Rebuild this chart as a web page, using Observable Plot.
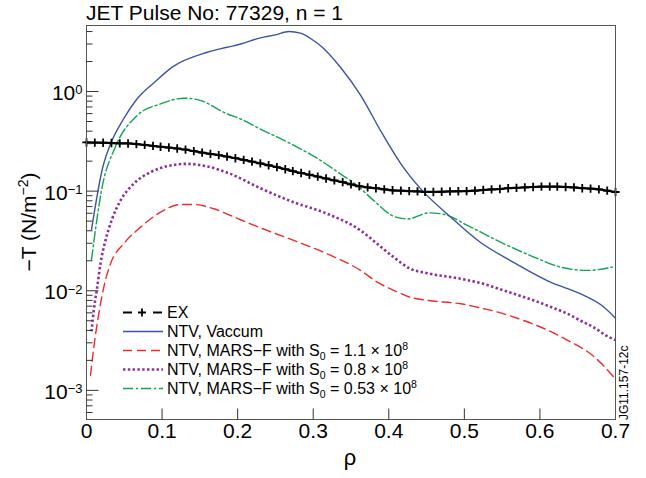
<!DOCTYPE html>
<html>
<head>
<meta charset="utf-8">
<script src="https://cdn.jsdelivr.net/npm/d3@7"></script>
<script src="https://cdn.jsdelivr.net/npm/@observablehq/plot@0.6"></script>
<style>
  html, body { margin: 0; padding: 0; background: #fff; }
  #chart { width: 646px; height: 478px; }
  svg { display: block; }
</style>
</head>
<body>
<div id="chart"></div>
<script>
// Torque profiles −T(ρ), JET pulse 77329, n = 1

// Experimental profile (EX), one marker per sample
const exRho = [0.000,0.011,0.022,0.033,0.044,0.055,0.066,0.077,0.088,0.098,
  0.109,0.120,0.131,0.142,0.153,0.164,0.175,0.186,0.197,0.208,
  0.219,0.230,0.241,0.252,0.263,0.273,0.284,0.295,0.306,0.317,
  0.328,0.339,0.350,0.361,0.372,0.383,0.394,0.405,0.416,0.427,
  0.438,0.448,0.459,0.470,0.481,0.492,0.503,0.514,0.525,0.536,
  0.547,0.558,0.569,0.580,0.591,0.602,0.613,0.623,0.634,0.645,
  0.656,0.667,0.678,0.689,0.700];
const exT = [0.308,0.307,0.306,0.304,0.302,0.301,0.297,0.291,0.285,0.279,
  0.274,0.268,0.261,0.252,0.244,0.237,0.230,0.222,0.214,0.206,
  0.198,0.190,0.182,0.174,0.166,0.159,0.152,0.146,0.140,0.134,
  0.128,0.123,0.117,0.112,0.109,0.107,0.104,0.102,0.101,0.100,
  0.0993,0.0984,0.0981,0.0986,0.0993,0.0997,0.100,0.101,0.103,0.104,
  0.105,0.107,0.108,0.109,0.110,0.111,0.111,0.111,0.110,0.109,
  0.107,0.106,0.104,0.101,0.098];

// NTV, vacuum
const vacRho = [0.0066,0.022,0.032,0.049,0.067,0.090,0.113,0.160,0.186,0.204,
  0.230,0.250,0.268,0.283,0.298,0.312,0.336,0.363,0.389,0.416,
  0.442,0.482,0.521,0.561,0.614,0.654,0.682,0.700];
const vacT = [0.041,0.18,0.30,0.53,0.845,1.24,1.75,2.48,2.78,3.0,
  3.46,3.7,4.0,3.85,3.35,2.78,1.75,0.91,0.406,0.188,
  0.106,0.0548,0.0307,0.0201,0.0122,0.0093,0.0071,0.0053];

// NTV, MARS-F with S0 = 1.1e8
const s11Rho = [0.0053,0.0097,0.0163,0.0229,0.0318,0.0494,0.0715,0.098,0.1244,0.142,
  0.1685,0.2038,0.239,0.2743,0.3185,0.3626,0.3847,0.4066,0.4287,0.4508,
  0.495,0.526,0.548,0.570,0.592,0.614,0.636,0.671,0.700];
const s11T = [0.00142,0.00272,0.00589,0.0109,0.0187,0.0297,0.0435,0.0615,0.0735,0.0735,
  0.0665,0.0516,0.0403,0.032,0.0235,0.016,0.0122,0.0101,0.0086,0.008,
  0.0074,0.0066,0.0060,0.0053,0.0046,0.0039,0.0032,0.0022,0.0013];

// NTV, MARS-F with S0 = 0.8e8
const s08Rho = [0.0066,0.0097,0.0142,0.0185,0.0251,0.034,0.045,0.0626,0.0847,0.1068,
  0.1333,0.160,0.1905,0.230,0.274,0.3185,0.3626,0.3847,0.4066,0.4287,
  0.4508,0.495,0.526,0.548,0.570,0.592,0.614,0.636,0.654,0.671,
  0.689,0.700];
const s08T = [0.0039,0.0064,0.0109,0.0187,0.032,0.0528,0.0805,0.119,0.155,0.178,
  0.188,0.177,0.149,0.107,0.0775,0.0593,0.0403,0.0296,0.0217,0.0166,
  0.015,0.0132,0.0117,0.0103,0.0091,0.0080,0.0069,0.0059,0.0050,0.0043,
  0.0035,0.0032];

// NTV, MARS-F with S0 = 0.53e8
const s053Rho = [0.0066,0.0207,0.038,0.067,0.098,0.129,0.147,0.186,0.204,0.230,
  0.270,0.310,0.336,0.358,0.380,0.407,0.425,0.453,0.473,0.504,
  0.548,0.592,0.627,0.663,0.696];
const s053T = [0.0205,0.11,0.276,0.574,0.752,0.857,0.83,0.597,0.53,0.42,
  0.30,0.203,0.149,0.114,0.0805,0.0557,0.0526,0.0605,0.0585,0.0453,
  0.0307,0.0218,0.0173,0.016,0.0173];

// Axis ticks and labels
const xTickValues = [0, 0.1, 0.2, 0.3, 0.4, 0.5, 0.6, 0.7];
const xTickLabels = ["0", "0.1", "0.2", "0.3", "0.4", "0.5", "0.6", "0.7"];
const xTickMarks = [0.1, 0.2, 0.3, 0.4, 0.5, 0.6];
const yMajor = [1e-3, 1e-2, 1e-1, 1];
const yExponents = ["−3", "−2", "−1", "0"];
const yDomain = [5.1e-4, 4.6];
const yMinor = [1e-4, 1e-3, 1e-2, 1e-1, 1]
  .flatMap(d => [2, 3, 4, 5, 6, 7, 8, 9].map(k => k * d))
  .filter(v => v >= yDomain[0] && v <= yDomain[1]);

const titleText = "JET Pulse No: 77329, n = 1";
const xLabel = "ρ";
const noteText = "JG11.157-12c";

const colors = {ex: "#000000", vac: "#3b54a4", s11: "#ee2b2b", s08: "#8e2e9a", s053: "#12a44e"};

const rows = (rho, t) => rho.map((r, i) => ({rho: r, t: t[i]}));
const exRows = rows(exRho, exT);

const FONT = "'Liberation Sans', Arial, Helvetica, sans-serif";

// tick drawn from the anchor point along the vector direction
const tickShape = {draw(context, l) { context.moveTo(0, 0); context.lineTo(0, -l); }};

const plot = Plot.plot({
  width: 646,
  height: 478,
  marginLeft: 86,
  marginRight: 31,
  marginTop: 25,
  marginBottom: 59,
  style: {fontFamily: FONT, fontSize: "21px", background: "#fff", color: "#000", overflow: "visible"},
  x: {domain: [0, 0.7]},
  y: {type: "log", domain: yDomain},
  marks: [
    Plot.line(rows(s11Rho, s11T), {x: "rho", y: "t", curve: "monotone-x",
      stroke: colors.s11, strokeWidth: 1.4, strokeDasharray: "9,5"}),
    Plot.line(rows(s08Rho, s08T), {x: "rho", y: "t", curve: "monotone-x",
      stroke: colors.s08, strokeWidth: 2.6, strokeDasharray: "2.4,2.4", strokeLinecap: "butt"}),
    Plot.line(rows(s053Rho, s053T), {x: "rho", y: "t", curve: "monotone-x",
      stroke: colors.s053, strokeWidth: 1.4, strokeDasharray: "10,3,2,3"}),
    Plot.line(rows(vacRho, vacT), {x: "rho", y: "t", curve: "monotone-x",
      stroke: colors.vac, strokeWidth: 1.4}),
    Plot.line(exRows, {x: "rho", y: "t", curve: "monotone-x", stroke: colors.ex, strokeWidth: 2.2}),
    Plot.dot(exRows, {x: "rho", y: "t", symbol: "plus", r: 2.8, stroke: colors.ex, strokeWidth: 1.8}),
    Plot.frame({stroke: "#555", strokeWidth: 1}),
    // inward ticks on the left and bottom edges
    Plot.vector(yMajor, {y: d => d, frameAnchor: "left", rotate: 90, length: 12, anchor: "start",
      shape: tickShape, stroke: "#333", strokeWidth: 1, strokeLinecap: "butt"}),
    Plot.vector(yMinor, {y: d => d, frameAnchor: "left", rotate: 90, length: 6, anchor: "start",
      shape: tickShape, stroke: "#333", strokeWidth: 1, strokeLinecap: "butt"}),
    Plot.vector(xTickMarks, {x: d => d, frameAnchor: "bottom", rotate: 0, length: 11, anchor: "start",
      shape: tickShape, stroke: "#333", strokeWidth: 1, strokeLinecap: "butt"}),
    Plot.axisY({ticks: yMajor, tickSize: 0, tickPadding: 4, dy: 2, label: null, fontSize: 21,
      tickFormat: d => yExponents[yMajor.indexOf(d)]}),
    Plot.axisX({ticks: xTickValues, tickSize: 0, tickPadding: 4, label: null, fontSize: 21,
      tickFormat: d => xTickLabels[xTickValues.indexOf(d)]})
  ]
});

document.getElementById("chart").appendChild(plot);
const svg = d3.select(plot);

// powers of ten on the y axis
svg.selectAll('g[aria-label="y-axis tick label"] text').each(function () {
  const exp = this.textContent.trim();
  const t = d3.select(this);
  t.text("10");
  t.append("tspan").attr("dy", "-0.45em").attr("font-size", "13px").text(exp);
});

const annot = svg.append("g").attr("font-family", FONT).attr("fill", "#000")
  .attr("text-anchor", "start");

// title
annot.append("text").attr("x", 86).attr("y", 20).attr("font-size", 21).text(titleText);

// x label
annot.append("text").attr("x", 350).attr("y", 465).attr("font-size", 22)
  .attr("text-anchor", "middle").text(xLabel);

// y label −T (N/m⁻²)
const yl = annot.append("text").attr("transform", "translate(36,222) rotate(-90)")
  .attr("text-anchor", "middle").attr("font-size", 21);
yl.append("tspan").text("−T (N/m");
yl.append("tspan").attr("dy", -8).attr("font-size", 14).text("−2");
yl.append("tspan").attr("dy", 8).text(")");

// figure reference along the right edge
annot.append("text").attr("transform", "translate(628,420) rotate(-90)")
  .attr("font-size", 12).text(noteText);

// legend
const legendItems = [
  {parts: ["EX"], color: colors.ex, width: 2.2, dash: "9,21", marker: true},
  {parts: ["NTV, Vaccum"], color: colors.vac, width: 1.4, dash: null},
  {parts: ["NTV, MARS−F with S", {sub: "0"}, " = 1.1 × 10", {sup: "8"}], color: colors.s11, width: 1.4, dash: "9,5"},
  {parts: ["NTV, MARS−F with S", {sub: "0"}, " = 0.8 × 10", {sup: "8"}], color: colors.s08, width: 2.6, dash: "2.4,2.4"},
  {parts: ["NTV, MARS−F with S", {sub: "0"}, " = 0.53 × 10", {sup: "8"}], color: colors.s053, width: 1.4, dash: "10,3,2,3"}
];
const leg = annot.append("g").attr("font-size", 16);
legendItems.forEach((item, i) => {
  const yb = 318 + i * 19;
  const yc = yb - 5.5;
  const line = leg.append("line").attr("x1", 123).attr("x2", 163).attr("y1", yc).attr("y2", yc)
    .attr("stroke", item.color).attr("stroke-width", item.width);
  if (item.dash) line.attr("stroke-dasharray", item.dash);
  if (item.marker) {
    leg.append("path").attr("d", `M138,${yc}h8M142,${yc - 4}v8`)
      .attr("stroke", item.color).attr("stroke-width", 1.8).attr("fill", "none");
  }
  const t = leg.append("text").attr("x", 167).attr("y", yb);
  let shift = 0;
  item.parts.forEach(p => {
    if (typeof p === "string") {
      t.append("tspan").attr("dy", -shift).text(p);
      shift = 0;
    } else if (p.sub) {
      t.append("tspan").attr("dy", 4).attr("font-size", 10.5).text(p.sub);
      shift = 4;
    } else if (p.sup) {
      t.append("tspan").attr("dy", -6 - shift).attr("font-size", 10.5).text(p.sup);
      shift = -6;
    }
  });
});
</script>
</body>
</html>
